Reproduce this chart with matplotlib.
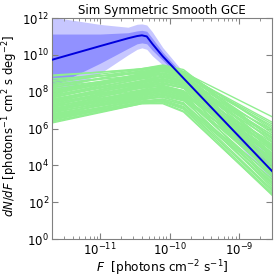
import numpy as np
import matplotlib
matplotlib.use('Agg')
import matplotlib.pyplot as plt
from matplotlib.ticker import NullFormatter

# log10 flux grid for the posterior bands and median
band_logF = [-11.7, -11.0, -10.6, -10.47, -10.4, -10.33, -10.25, -10.1, -9.8, -9.0, -8.5]
median_logy = [9.73, 10.48, 10.9, 11.02, 11.06, 11.0, 10.6, 9.92, 8.73, 5.57, 3.6]
upper95_logy = [12.05, 11.65, 11.5, 11.66, 11.68, 11.62, 11.25, 10.4, 9.05, 6.1, 4.4]
upper68_logy = [11.13, 11.13, 11.2, 11.3, 11.33, 11.28, 10.9, 10.15, 8.9, 5.85, 4.0]
lower68_logy = [8.27, 9.55, 10.35, 10.6, 10.65, 10.6, 10.25, 9.7, 8.58, 5.35, 3.35]
lower95_logy = [7.7, 9.0, 10.0, 10.3, 10.38, 10.3, 9.95, 9.45, 8.42, 5.1, 3.1]

# log10 flux grid for the simulated (true) source-count curves
sim_logF = [-11.7, -10.4, -10.1, -9.8, -8.5]
sim_logy = [
    [8.9, 9.2, 9.3, 9.05, 6.6],
    [8.85, 9.25, 9.4, 9.1, 5.9],
    [8.6, 9.25, 9.45, 9.2, 5.4],
    [8.45, 9.2, 9.35, 9.0, 4.9],
    [8.3, 9.1, 9.3, 9.05, 6.0],
    [8.2, 9.15, 9.4, 9.1, 5.2],
    [8.1, 8.95, 9.15, 8.85, 4.4],
    [8.0, 8.9, 9.1, 8.9, 6.2],
    [7.95, 9.0, 9.25, 8.95, 5.0],
    [7.9, 8.8, 9.0, 8.7, 4.6],
    [7.85, 8.9, 9.2, 9.0, 5.7],
    [7.8, 8.7, 8.9, 8.6, 4.2],
    [7.75, 8.85, 9.1, 8.8, 4.8],
    [7.7, 8.6, 8.8, 8.55, 5.5],
    [7.65, 8.75, 9.0, 8.7, 3.9],
    [7.6, 8.5, 8.7, 8.4, 4.4],
    [7.55, 8.6, 8.85, 8.6, 5.3],
    [7.5, 8.3, 8.45, 8.2, 3.7],
    [7.45, 8.45, 8.7, 8.45, 4.9],
    [7.4, 8.2, 8.35, 8.05, 3.4],
    [7.35, 8.35, 8.55, 8.3, 4.6],
    [7.3, 8.1, 8.25, 8.0, 4.0],
    [7.25, 8.25, 8.45, 8.25, 5.1],
    [7.2, 8.0, 8.1, 7.8, 3.1],
    [7.15, 8.05, 8.25, 8.0, 4.3],
    [7.1, 7.9, 8.0, 7.7, 3.6],
    [7.05, 7.95, 8.15, 7.9, 4.5],
    [7.0, 7.8, 7.95, 7.65, 3.3],
    [6.95, 7.85, 8.05, 7.85, 4.8],
    [6.9, 7.7, 7.85, 7.55, 3.0],
    [6.85, 7.75, 7.95, 7.7, 4.1],
    [6.8, 7.6, 7.7, 7.4, 2.8],
    [6.75, 7.65, 7.85, 7.6, 3.8],
    [6.7, 7.5, 7.6, 7.3, 2.6],
    [6.65, 7.55, 7.75, 7.5, 4.4],
    [6.6, 7.45, 7.55, 7.2, 2.5],
    [6.55, 7.4, 7.5, 7.15, 3.2],
    [6.5, 7.4, 7.45, 7.05, 2.4],
    [6.4, 7.35, 7.4, 6.95, 2.3],
    [6.3, 7.35, 7.35, 6.9, 2.35],
    [8.7, 9.0, 9.1, 8.8, 5.0],
    [8.4, 8.9, 9.0, 8.7, 5.6],
    [8.15, 8.7, 8.8, 8.5, 4.5],
    [7.6, 8.2, 8.3, 8.05, 5.0],
    [7.0, 8.3, 8.6, 8.35, 4.2],
    [6.9, 8.1, 8.4, 8.2, 5.2],
    [6.6, 7.9, 8.2, 7.95, 3.6],
    [6.5, 7.6, 7.8, 7.55, 3.0],
    [8.55, 9.1, 9.2, 8.95, 6.3],
    [8.35, 9.05, 9.2, 8.9, 4.7],
    [8.05, 8.8, 9.0, 8.75, 5.8],
    [7.9, 8.95, 9.3, 9.05, 5.4],
    [7.7, 8.7, 9.0, 8.8, 6.1],
    [7.55, 8.4, 8.6, 8.3, 3.8],
    [7.4, 8.5, 8.8, 8.55, 5.6],
    [7.3, 8.3, 8.5, 8.2, 3.5],
    [7.15, 8.2, 8.45, 8.2, 4.9],
    [7.05, 8.05, 8.2, 7.9, 2.9],
    [6.95, 8.0, 8.25, 8.0, 4.0],
    [6.85, 7.85, 8.1, 7.85, 5.0],
    [6.75, 7.7, 7.9, 7.6, 2.7],
    [6.7, 7.8, 8.05, 7.8, 4.6],
    [6.6, 7.6, 7.7, 7.35, 2.9],
    [6.45, 7.45, 7.6, 7.3, 3.4],
    [6.35, 7.4, 7.5, 7.1, 2.6],
    [8.25, 8.8, 8.95, 8.6, 4.1],
    [7.8, 8.55, 8.7, 8.45, 5.9],
    [7.5, 8.55, 8.8, 8.5, 4.1],
    [7.2, 8.4, 8.65, 8.4, 5.4],
    [7.0, 7.9, 8.05, 7.75, 3.5],
]

title = 'Sim Symmetric Smooth GCE'
xlabel = r'$F$  [photons cm$^{-2}$ s$^{-1}$]'
ylabel = r'$dN/dF$ [photons$^{-1}$ cm$^2$ s deg$^{-2}$]'
x_major = [1e-11, 1e-10, 1e-9]
x_minor = [m * 10.0 ** e for e in (-12, -11, -10, -9) for m in range(2, 10)
           if 2e-12 <= m * 10.0 ** e <= 3e-9]
y_major = [10.0 ** k for k in range(0, 13, 2)]

F_band = 10.0 ** np.array(band_logF)
F_sim = 10.0 ** np.array(sim_logF)

fig = plt.figure(figsize=(2.79, 2.77), dpi=100)
ax = fig.add_axes([0.186, 0.137, 0.789, 0.798])

ax.fill_between(F_band, 10.0 ** np.array(lower95_logy), 10.0 ** np.array(upper95_logy),
                color='blue', alpha=0.22, lw=0, zorder=1)
ax.fill_between(F_band, 10.0 ** np.array(lower68_logy), 10.0 ** np.array(upper68_logy),
                color='blue', alpha=0.27, lw=0, zorder=1)
for row in sim_logy:
    ax.plot(F_sim, 10.0 ** np.array(row), color='lightgreen', lw=1.0, zorder=2)
ax.plot(F_band, 10.0 ** np.array(median_logy), color='#0000dd', lw=1.4, zorder=3)

ax.set_xscale('log')
ax.set_yscale('log')
ax.set_xlim(2e-12, 3e-9)
ax.set_ylim(1, 1e12)
ax.set_xticks(x_major)
ax.set_xticks(x_minor, minor=True)
ax.xaxis.set_minor_formatter(NullFormatter())
ax.set_yticks(y_major)
ax.set_yticks([], minor=True)

ax.tick_params(which='both', direction='in', top=True, right=True, color='grey',
               labelsize=8.5, pad=2)
ax.tick_params(which='major', length=4, width=0.8)
ax.tick_params(which='minor', length=2, width=0.6)
for sp in ax.spines.values():
    sp.set_color('grey')

ax.set_title(title, fontsize=8.5, pad=3)
ax.set_xlabel(xlabel, fontsize=8.7, labelpad=0)
ax.set_ylabel(ylabel, fontsize=8.4, labelpad=1)
ax.yaxis.set_label_coords(-0.145, 0.51)

fig.savefig('out.png', dpi=100)
